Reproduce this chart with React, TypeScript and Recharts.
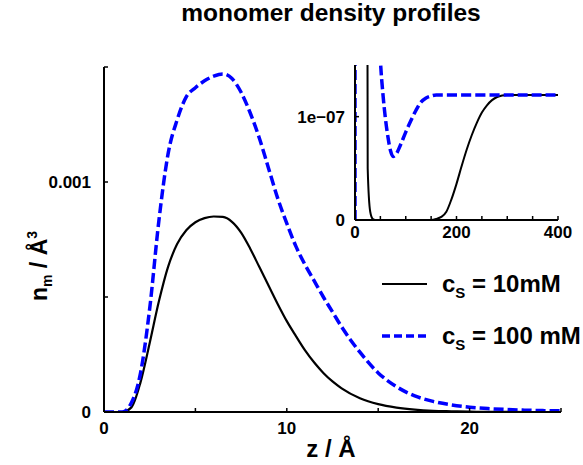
import React from "react";
import { LineChart, Line, XAxis, YAxis } from "recharts";

// main panel: z (Å) vs monomer density
const zMain = [0, 0.5, 1, 1.5, 2, 2.5, 3, 3.5, 4, 4.5, 5, 5.5, 6, 6.5, 7, 7.5, 8, 8.5, 9, 9.5, 10, 10.5, 11, 11.5, 12, 12.5, 13, 14, 15, 16, 17, 18, 19, 20, 21, 22, 23, 24, 25];
const nm10 = [0, 0, 0, 0.00002, 0.00013, 0.0003, 0.00048, 0.00063, 0.00073, 0.00079, 0.000825, 0.000843, 0.00085, 0.000848, 0.000827, 0.00078, 0.00071, 0.00063, 0.00055, 0.00047, 0.000395, 0.00033, 0.000268, 0.000215, 0.00017, 0.000133, 0.000103, 0.00006, 0.000034, 0.000019, 0.00001, 0.000005, 0.000003, 0.0000015, 0.0000007, 0.0000003, 0, 0, 0];
const nm100 = [0, 0, 0, 0.00004, 0.00017, 0.00045, 0.00083, 0.00112, 0.00127, 0.00137, 0.00141, 0.00144, 0.00146, 0.00147, 0.00145, 0.00139, 0.0013, 0.00119, 0.00106, 0.00093, 0.00082, 0.00072, 0.00064, 0.00057, 0.0005, 0.000435, 0.00037, 0.00026, 0.00017, 0.00011, 0.00007, 0.000046, 0.000031, 0.000021, 0.000015, 0.000011, 0.000008, 0.000006, 0.000005];

// inset: same profiles out to 400 Å, zoomed on the bulk value
const zInset = [0, 5, 10, 15, 20, 25, 30, 35, 40, 50, 55, 60, 65, 70, 75, 80, 90, 100, 110, 120, 130, 140, 150, 160, 170, 180, 190, 200, 210, 220, 230, 240, 250, 260, 270, 280, 290, 300, 350, 400];
const nm10Inset = [0, 0.000825, 0.000395, 0.000034, 0.0000015, 5e-8, 8e-9, 1e-9, 0, 0, 0, 0, 0, 0, 0, 0, 0, 0, 0, 0, 0, 0, 0, 1e-9, 3e-9, 8e-9, 2e-8, 3.5e-8, 5.2e-8, 6.8e-8, 8.2e-8, 9.4e-8, 1.04e-7, 1.11e-7, 1.16e-7, 1.19e-7, 1.205e-7, 1.21e-7, 1.21e-7, 1.21e-7];
const nm100Inset = [0, 0.00141, 0.00082, 0.00017, 0.000021, 0.000005, 1.5e-6, 6e-7, 3e-7, 1.55e-7, 1.22e-7, 9.8e-8, 8e-8, 6.7e-8, 6.15e-8, 6.3e-8, 7.3e-8, 8.5e-8, 9.6e-8, 1.06e-7, 1.14e-7, 1.18e-7, 1.2e-7, 1.21e-7, 1.21e-7, 1.21e-7, 1.21e-7, 1.21e-7, 1.21e-7, 1.21e-7, 1.21e-7, 1.21e-7, 1.21e-7, 1.21e-7, 1.21e-7, 1.21e-7, 1.21e-7, 1.21e-7, 1.21e-7, 1.21e-7];

const mainXTicks = [0, 5, 10, 15, 20, 25];
const mainXLabels: Record<string, string> = { "0": "0", "10": "10", "20": "20" };
const mainYTicks = [0, 0.0005, 0.001, 0.0015];
const mainYLabels: Record<string, string> = { "0": "0", "0.001": "0.001" };
const insetXTicks = [0, 50, 100, 150, 200, 250, 300, 350, 400];
const insetXLabels: Record<string, string> = { "0": "0", "200": "200", "400": "400" };
const insetYTicks = [0, 1e-7];
const insetYLabels: Record<string, string> = { "0": "0", "1e-7": "1e\u221207" };

const FONT = "'Liberation Sans', Arial, Helvetica, sans-serif";

const mainData = zMain.map((z, i) => ({ z, c10: nm10[i], c100: nm100[i] }));
const insetData = zInset.map((z, i) => ({ z, c10: nm10Inset[i], c100: nm100Inset[i] }));

// ticks point inwards, labels drawn by hand
const xTick = (labels: Record<string, string>, gap: number) => (props: any) => {
  const { x, y, payload } = props;
  const label = labels[String(payload.value)];
  return (
    <g>
      <line x1={x} x2={x} y1={y} y2={y - 4} stroke="#000" strokeWidth={1.5} />
      {label !== undefined && (
        <text x={x} y={y + gap} textAnchor="middle" fontFamily={FONT} fontWeight="bold" fontSize={17} fill="#000">
          {label}
        </text>
      )}
    </g>
  );
};

const yTick = (labels: Record<string, string>, gap: number) => (props: any) => {
  const { x, y, payload } = props;
  const label = labels[String(payload.value)];
  return (
    <g>
      <line x1={x} x2={x + 4} y1={y} y2={y} stroke="#000" strokeWidth={1.5} />
      {label !== undefined && (
        <text x={x - gap} y={y} dy="0.35em" textAnchor="end" fontFamily={FONT} fontWeight="bold" fontSize={17} fill="#000">
          {label}
        </text>
      )}
    </g>
  );
};

const XTitle = () => (
  <text x={331} y={457} textAnchor="middle" fontFamily={FONT} fontWeight="bold" fontSize={24} fill="#000">
    z / Å
  </text>
);

const YTitle = () => (
  <text x={47} y={266} transform="rotate(-90, 47, 266)" textAnchor="middle" fontFamily={FONT} fontWeight="bold" fontSize={23} fill="#000">
    n<tspan fontSize={14} dy={5}>m</tspan>
    <tspan dy={-5}> / Å</tspan>
    <tspan fontSize={14} dy={-10}>3</tspan>
  </text>
);

const axisStyle = { stroke: "#000", strokeWidth: 2 };

export default function App() {
  return (
    <div style={{ position: "absolute", left: 0, top: 0, width: 583, height: 465, background: "#fff" }}>
      <LineChart width={583} height={465} data={mainData} margin={{ top: 67, right: 22, bottom: 23, left: 44 }}>
        <XAxis
          dataKey="z"
          type="number"
          domain={[0, 25]}
          ticks={mainXTicks}
          interval={0}
          allowDataOverflow
          height={30}
          tickSize={0}
          tickMargin={0}
          tickLine={false}
          axisLine={axisStyle}
          tick={xTick(mainXLabels, 22)}
          label={<XTitle />}
        />
        <YAxis
          type="number"
          domain={[0, 0.0015]}
          ticks={mainYTicks}
          interval={0}
          allowDataOverflow
          width={60}
          tickSize={0}
          tickMargin={0}
          tickLine={false}
          axisLine={axisStyle}
          tick={yTick(mainYLabels, 13)}
          label={<YTitle />}
        />
        <Line type="monotone" dataKey="c10" stroke="#000" strokeWidth={2.2} dot={false} isAnimationActive={false} />
        <Line type="monotone" dataKey="c100" stroke="#0000ff" strokeWidth={3.5} strokeDasharray="10 4" dot={false} isAnimationActive={false} />
      </LineChart>

      <div style={{ position: "absolute", left: 280, top: 55, width: 310, height: 200 }}>
        <LineChart width={310} height={200} data={insetData} margin={{ top: 10, right: 32, bottom: 15, left: 35 }}>
          <XAxis
            dataKey="z"
            type="number"
            domain={[0, 400]}
            ticks={insetXTicks}
            interval={0}
            allowDataOverflow
            height={20}
            tickSize={0}
            tickMargin={0}
            tickLine={false}
            axisLine={axisStyle}
            tick={xTick(insetXLabels, 18)}
          />
          <YAxis
            type="number"
            domain={[0, 1.5e-7]}
            ticks={insetYTicks}
            interval={0}
            allowDataOverflow
            width={40}
            tickSize={0}
            tickMargin={0}
            tickLine={false}
            axisLine={axisStyle}
            tick={yTick(insetYLabels, 10)}
          />
          <Line type="monotone" dataKey="c10" stroke="#000" strokeWidth={2} dot={false} isAnimationActive={false} />
          <Line type="monotone" dataKey="c100" stroke="#0000ff" strokeWidth={3.5} strokeDasharray="10 4" dot={false} isAnimationActive={false} />
        </LineChart>
      </div>

      <svg width={583} height={465} style={{ position: "absolute", left: 0, top: 0, pointerEvents: "none" }}>
        <text x={331} y={21} textAnchor="middle" fontFamily={FONT} fontWeight="bold" fontSize={24.5} fill="#000">
          monomer density profiles
        </text>
        <line x1={382} x2={427} y1={284} y2={284} stroke="#000" strokeWidth={2} />
        <text x={442} y={291.5} fontFamily={FONT} fontWeight="bold" fontSize={24} fill="#000">
          c<tspan fontSize={15} dy={6}>S</tspan>
          <tspan dy={-6}> = 10mM</tspan>
        </text>
        <line x1={382} x2={427} y1={336} y2={336} stroke="#0000ff" strokeWidth={3.5} strokeDasharray="8 4" />
        <text x={442} y={343.5} fontFamily={FONT} fontWeight="bold" fontSize={24} fill="#000">
          c<tspan fontSize={15} dy={6}>S</tspan>
          <tspan dy={-6}> = 100 mM</tspan>
        </text>
      </svg>
    </div>
  );
}
